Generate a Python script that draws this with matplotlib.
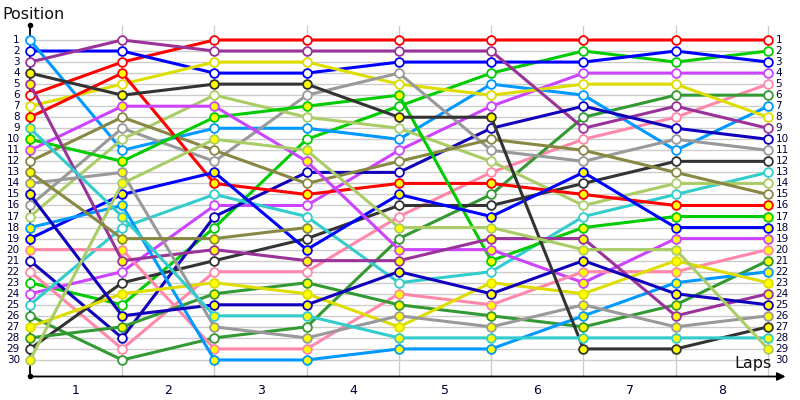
import matplotlib.pyplot as plt
import numpy as np

# lap chart: position of each driver at start (0) and after laps 1..8
laps = [0, 1, 2, 3, 4, 5, 6, 7, 8]
lap_labels = ["1", "2", "3", "4", "5", "6", "7", "8"]
n_pos = 30

# driver line colours and marker fill ("w" = white, "y" = yellow)
colors = ["#ff0000", "#00cc00", "#0000ff", "#cc44ff", "#ff88aa", "#339933",
          "#0099ff", "#dddd00", "#993399", "#1100bb", "#999999", "#333333",
          "#33cccc", "#aacc66", "#888844",
          "#ff0000", "#00cc00", "#0000ff", "#cc44ff", "#ff88aa", "#339933",
          "#0099ff", "#dddd00", "#993399", "#1100bb", "#999999", "#333333",
          "#33cccc", "#aacc66", "#888844"]
fills = ["w"] * 15 + ["y"] * 15

nan = np.nan
positions = [
    [6, 3, 1, 1, 1, 1, 1, 1, 1],
    [23, 25, 18, 10, 7, 4, 2, 3, 2],
    [2, 2, 4, 4, 3, 3, 3, 2, 3],
    [24, 22, 16, 16, 11, 7, 4, 4, 4],
    [22, 29, 22, 22, 17, 13, 10, 8, 5],
    [26, 30, 28, 27, 19, 15, 8, 6, 6],
    [1, 11, 9, 9, 10, 5, 6, 11, 7],
    [7, 5, 3, 3, 5, 6, 5, 5, 8],
    [3, 1, 2, 2, 2, 2, 9, 7, 9],
    [21, 28, 17, 13, 13, 9, 7, 9, 10],
    [16, 9, 12, 6, 4, 11, 12, 10, 11],
    [29, 23, 21, 19, 16, 16, 14, 12, 12],
    [25, 18, 15, 17, 23, 22, 17, 15, 13],
    [17, 10, 6, 8, 9, 12, 16, 14, 14],
    [12, 8, 11, 14, 12, 10, 11, 13, 15],
    [8, 4, 14, 15, 14, 14, 15, 16, 16],
    [10, 12, 8, 7, 6, 21, 18, 17, 17],
    [19, 15, 13, 20, 15, 17, 13, 18, 18],
    [11, 7, 7, 12, 20, 20, 23, 19, 19],
    [20, 20, 29, 29, 24, 25, 22, 22, 20],
    [28, 27, 24, 23, 25, 26, 27, 25, 21],
    [18, 16, 30, 30, 29, 29, 26, 23, 22],
    [27, 24, 23, 24, 27, 23, 24, 21, 23],
    [5, 21, 20, 21, 21, 19, 19, 26, 24],
    [15, 26, 25, 25, 22, 24, 21, 24, 25],
    [14, 13, 27, 28, 26, 27, 25, 27, 26],
    [4, 6, 5, 5, 8, 8, 29, 29, 27],
    [9, 17, 26, 26, 28, 28, 28, 28, 28],
    [30, 14, 10, 11, 18, 18, 20, 20, 29],
    [13, 19, 19, 18, nan, nan, nan, nan, nan],
]

fig = plt.figure(figsize=(8, 4), dpi=100)
ax = fig.add_axes([0, 0, 1, 1])
ax.set_xlim(-0.325, 8.347)
ax.set_ylim(33.63, -2.625)
ax.axis("off")

label_col = "#000033"
yb = 31.5  # bottom axis level

# grid
for p in range(1, n_pos + 1):
    ax.plot([0, 8], [p, p], color="#cccccc", lw=1, zorder=1)
for x in laps[1:]:
    ax.plot([x, x], [-0.3, yb], color="#cccccc", lw=1, zorder=1)

# axes with arrows
ax.plot([0, 0], [yb, -0.4], color="black", lw=1.3, zorder=2)
ax.plot([0], [-0.4], marker="o", ms=3, color="black", zorder=2)
ax.plot([0], [yb], marker="o", ms=3, color="black", zorder=2)
ax.annotate("", xy=(8.19, yb), xytext=(0, yb),
            arrowprops=dict(arrowstyle="-|>", color="black", lw=1.3,
                            mutation_scale=12, shrinkA=0, shrinkB=0), zorder=2)
for p in range(1, n_pos + 1):
    ax.plot([-0.025, 0.025], [p, p], color="black", lw=1, zorder=2)

# driver lines
for pos, c, f in zip(positions, colors, fills):
    ax.plot(laps, pos, color=c, lw=2.2, marker="o", ms=6.3,
            mfc="white" if f == "w" else "#ffff00", mec=c, mew=1.3, zorder=3)

# labels
for p in range(1, n_pos + 1):
    ax.text(-0.11, p, str(p), ha="right", va="center", fontsize=7.5,
            color=label_col)
    ax.text(8.08, p, str(p), ha="left", va="center", fontsize=7.5,
            color=label_col)
for i, lab in enumerate(lap_labels):
    ax.text(i + 0.5, 32.8, lab, ha="center", va="center", fontsize=9,
            color=label_col)
ax.text(-0.3, -1.3, "Position", ha="left", va="center", fontsize=11.5,
        color="#111111")
ax.text(8.04, 30.3, "Laps", ha="right", va="center", fontsize=11.5,
        color="#111111")

fig.savefig("out.png", dpi=100)
